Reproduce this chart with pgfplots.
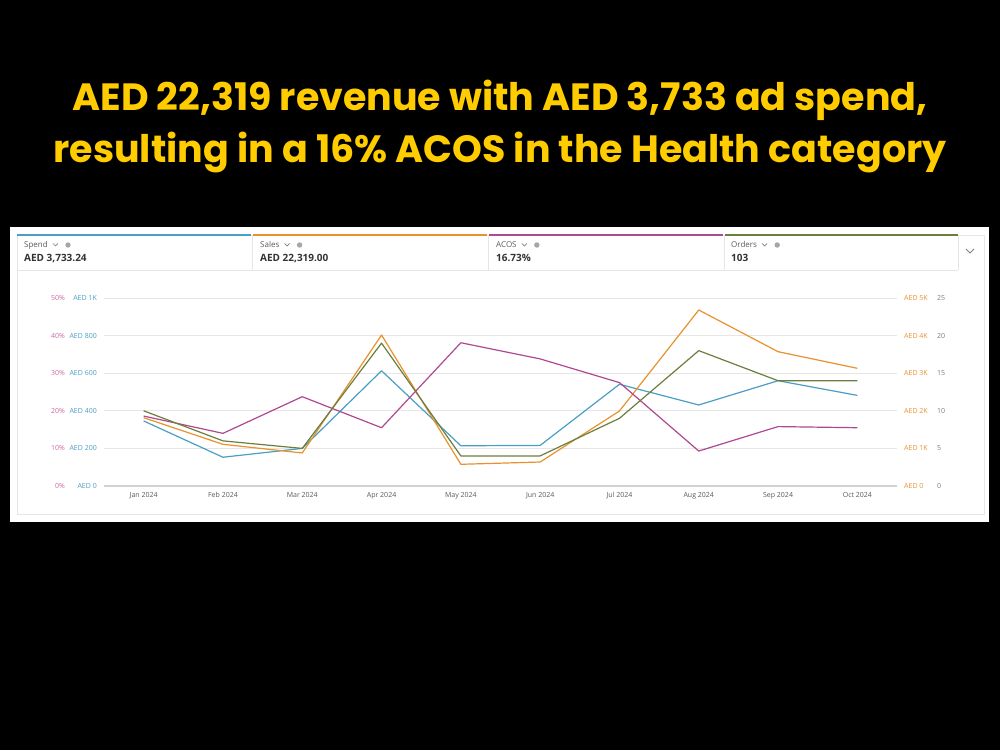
\documentclass[border=0pt]{standalone}
\usepackage{fontspec}
\setmainfont{Open Sans}
\newfontfamily\titlefont{Poppins}
\usepackage{pgfplots}
\pgfplotsset{compat=1.18}
\definecolor{spend}{RGB}{75,158,196}
\definecolor{sales}{RGB}{232,146,46}
\definecolor{acos}{RGB}{176,72,145}
\definecolor{orders}{RGB}{108,126,62}
\definecolor{acoslbl}{RGB}{205,105,165}
\definecolor{orderslbl}{RGB}{125,125,115}
\definecolor{titleyellow}{RGB}{255,204,0}
\definecolor{cardline}{RGB}{230,230,230}
\definecolor{labelgray}{RGB}{90,90,90}
\pgfplotsset{
  base/.style={
    at={(104pt,264pt)}, anchor=south west, scale only axis,
    width=793pt, height=188pt, xmin=-0.5, xmax=9.5,
    axis line style={draw=none}, major tick style={draw=none},
    xtick=\empty, clip=false,
    yticklabel style={font=\fontsize{7}{8}\selectfont, inner sep=0pt},
  },
  ser/.style={line width=1.2pt, no markers, line join=round},
}
\begin{document}
\begin{tikzpicture}[x=1pt,y=1pt]
\fill[black] (0,0) rectangle (1000,750);
\node[anchor=base, text=titleyellow, font=\titlefont\bfseries\fontsize{38}{46}\selectfont] at (500,639) {AED 22,319 revenue with AED 3,733 ad spend,};
\node[anchor=base, text=titleyellow, font=\titlefont\bfseries\fontsize{38}{46}\selectfont] at (500,587) {resulting in a 16\% ACOS in the Health category};
% panel
\fill[white] (10,228) rectangle (989,523);
\draw[cardline, line width=0.8pt] (17,236) rectangle (984,515);
\draw[cardline, line width=0.8pt] (17,480) -- (958,480);
\foreach \xx in {252,488,724,958} {\draw[cardline, line width=0.8pt] (\xx,480) -- (\xx,515);}
\draw[spend, line width=2pt] (17,514.5) -- (251,514.5);
\draw[sales, line width=2pt] (253,514.5) -- (487,514.5);
\draw[acos, line width=2pt] (489,514.5) -- (723,514.5);
\draw[orders, line width=2pt] (725,514.5) -- (958,514.5);
\foreach \lx/\lab/\val/\nm in {24/Spend/{AED 3,733.24}/a, 260/Sales/{AED 22,319.00}/b, 496/ACOS/{16.73\%}/c, 731/Orders/{103}/d} {
  \node[anchor=base west, inner sep=0pt, text=labelgray, font=\fontsize{8}{9}\selectfont] (l\nm) at (\lx,502) {\lab};
  \draw[gray, line width=0.7pt] (l\nm.base east) ++(5,4.5) -- ++(2.5,-2.5) -- ++(2.5,2.5);
  \fill[gray!70] (l\nm.base east) ++(20,3) circle (2.7);
  \node[anchor=base west, inner sep=0pt, text=black!80, font=\bfseries\fontsize{10}{12}\selectfont] at (\lx,488) {\val};
}
\draw[gray, line width=0.9pt] (966,501) -- (970,497) -- (974,501);
% axis 1: ACOS, grid, x labels
\begin{axis}[base, ymin=0, ymax=50,
  ytick={0,10,20,30,40,50}, yticklabels={0\%,10\%,20\%,30\%,40\%,50\%},
  yticklabel style={text=acoslbl, anchor=east, xshift=-39pt},
  ymajorgrids, grid style={cardline, line width=0.8pt},
  xtick={0,...,9},
  xticklabels={Jan 2024,Feb 2024,Mar 2024,Apr 2024,May 2024,Jun 2024,Jul 2024,Aug 2024,Sep 2024,Oct 2024},
  xticklabel style={font=\fontsize{7}{8}\selectfont, text=labelgray, anchor=north, inner sep=0pt, yshift=-6pt},
]
\draw[gray!35, line width=2pt] (axis cs:-0.5,0) -- (axis cs:9.5,0);
\end{axis}
% axis 2: Spend
\begin{axis}[base, ymin=0, ymax=1000,
  ytick={0,200,400,600,800,1000}, yticklabels={AED 0,AED 200,AED 400,AED 600,AED 800,AED 1K},
  yticklabel style={text=spend, anchor=east, xshift=-7pt}]
\addplot[ser, spend] coordinates {(0,346) (1,153) (2,200) (3,613) (4,214) (5,216) (6,541) (7,431) (8,560) (9,482)};
\end{axis}
% axis 3: Sales
\begin{axis}[base, ymin=0, ymax=5000, yticklabel pos=right,
  ytick={0,1000,2000,3000,4000,5000}, yticklabels={AED 0,AED 1K,AED 2K,AED 3K,AED 4K,AED 5K},
  yticklabel style={text=sales, anchor=west, xshift=7pt}]
\addplot[ser, sales] coordinates {(0,1816) (1,1109) (2,878) (3,4016) (4,577) (5,638) (6,1995) (7,4681) (8,3572) (9,3130)};
\end{axis}
% axis 4: ACOS series
\begin{axis}[base, ymin=0, ymax=50, ytick=\empty]
\addplot[ser, acos] coordinates {(0,18.6) (1,14.0) (2,23.75) (3,15.5) (4,38.1) (5,33.8) (6,27.5) (7,9.3) (8,15.8) (9,15.5)};
\end{axis}
% axis 5: Orders
\begin{axis}[base, ymin=0, ymax=25, yticklabel pos=right,
  ytick={0,5,10,15,20,25}, yticklabels={0,5,10,15,20,25},
  yticklabel style={text=orderslbl, anchor=west, xshift=40pt}]
\addplot[ser, orders] coordinates {(0,10) (1,6) (2,5) (3,19) (4,4) (5,4) (6,9) (7,18) (8,14) (9,14)};
\end{axis}
\end{tikzpicture}
\end{document}
